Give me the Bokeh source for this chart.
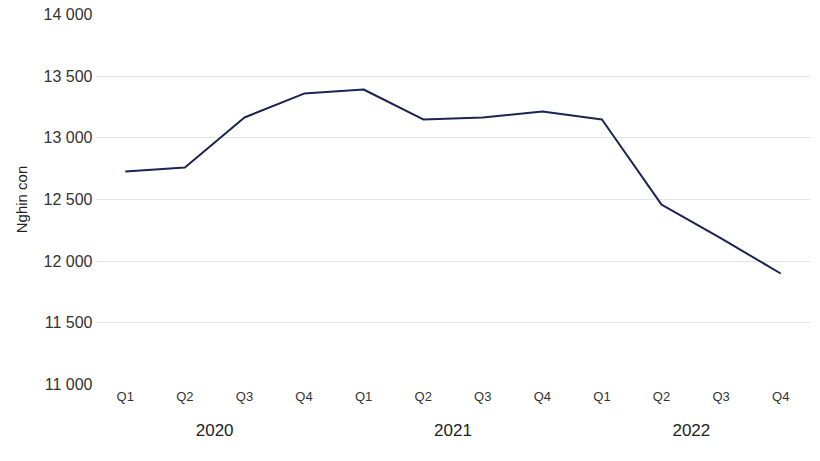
from bokeh.plotting import figure
from bokeh.models import FactorRange, Range1d, CustomJSTickFormatter, FixedTicker, CategoricalAxis
from bokeh.embed import file_html
from bokeh.resources import INLINE

years = ["2020", "2021", "2022"]
quarters = ["Q1", "Q2", "Q3", "Q4"]
values = [12727, 12759, 13165, 13359, 13392, 13149, 13165, 13214, 13149, 12459, 12184, 11900]
y_ticks = [11000, 11500, 12000, 12500, 13000, 13500, 14000]

factors = [(y, q) for y in years for q in quarters]

p = figure(
    width=820, height=461,
    x_range=FactorRange(*factors, factor_padding=0, group_padding=0, range_padding=0),
    y_range=Range1d(11000, 14000),
    output_backend="svg", toolbar_location=None,
    min_border_top=14, min_border_right=10, min_border_bottom=77, min_border_left=95,
)
p.outline_line_color = None
p.background_fill_color = "white"
p.border_fill_color = "white"

p.line(x=factors, y=values, line_color="#1b2452", line_width=2)

font = "Liberation Sans"
p.yaxis.ticker = FixedTicker(ticks=y_ticks)
p.yaxis.formatter = CustomJSTickFormatter(code='return tick.toString().replace(/\\B(?=(\\d{3})+(?!\\d))/g, " ");')
p.yaxis.axis_label = "Nghin con"
p.yaxis.axis_label_text_font = font
p.yaxis.axis_label_text_font_style = "normal"
p.yaxis.axis_label_text_font_size = "15px"
p.yaxis.axis_label_text_color = "#222222"
p.yaxis.axis_label_standoff = 11
p.yaxis.major_label_text_font = font
p.yaxis.major_label_text_font_size = "16px"
p.yaxis.major_label_text_color = "#333333"
p.yaxis.major_label_standoff = 3

for ax in (p.xaxis, p.yaxis):
    ax.axis_line_color = None
    ax.major_tick_line_color = None
    ax.minor_tick_line_color = None
    ax.major_tick_out = 0
    ax.minor_tick_out = 0

p.xaxis.major_label_text_font = font
p.xaxis.major_label_text_font_size = "13px"
p.xaxis.major_label_text_color = "#333333"
p.xaxis.major_label_standoff = 4
p.xaxis.group_text_alpha = 0
p.xaxis.group_text_font_size = "1px"
p.xaxis.separator_line_alpha = 0
p.xaxis.major_label_orientation = "horizontal"

# second axis carrying the year labels, centred under each group of quarters
p.extra_x_ranges = {"years": FactorRange(*years, range_padding=0)}
year_axis = CategoricalAxis(x_range_name="years")
year_axis.axis_line_color = None
year_axis.major_tick_line_color = None
year_axis.major_tick_out = 0
year_axis.major_label_standoff = 17
year_axis.major_label_text_font = font
year_axis.major_label_text_font_size = "17px"
year_axis.major_label_text_color = "#222222"
p.add_layout(year_axis, "below")

p.xgrid.grid_line_color = None
p.ygrid.grid_line_color = "#e4e4e4"
p.ygrid.grid_line_width = 1

open("out.html", "w").write(file_html(p, INLINE))
